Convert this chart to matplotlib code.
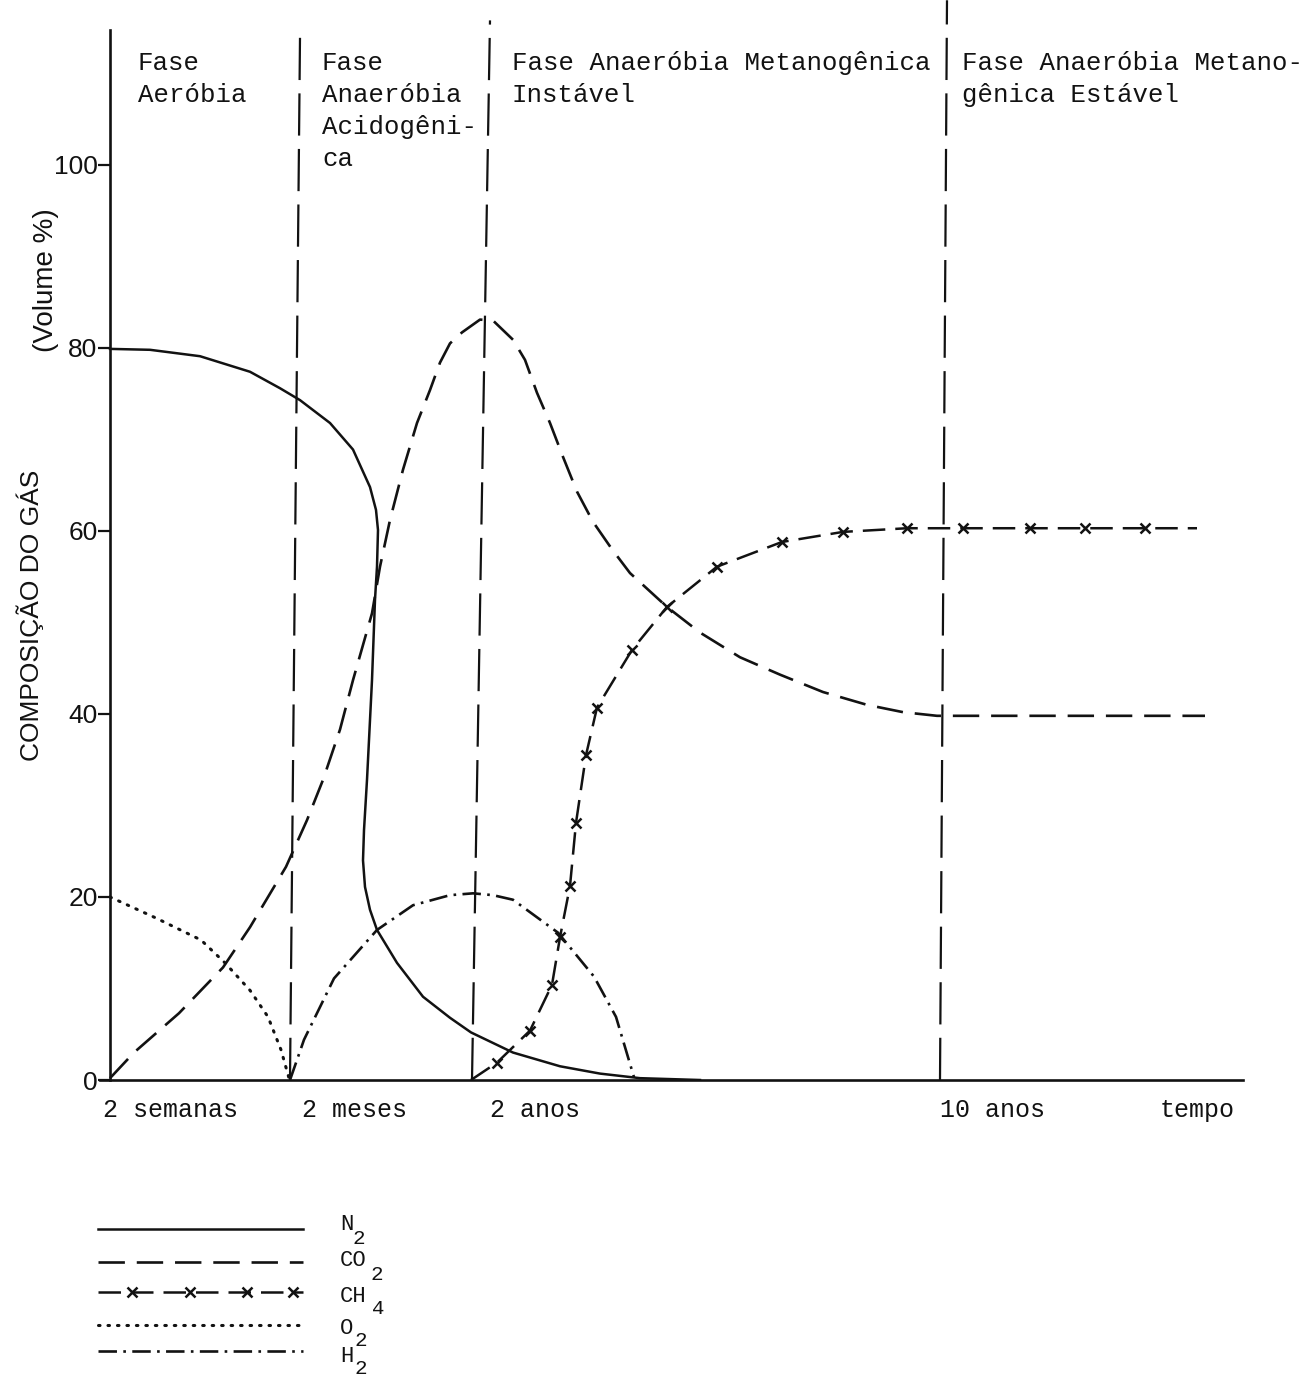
import matplotlib
matplotlib.use("Agg")
import matplotlib.pyplot as plt

# curve values (x in arbitrary time units, y in volume %)
n2_x = [0, 4, 9, 14, 17, 19, 22, 24.3, 26, 26.6, 26.8, 26.7, 26.5, 26.2, 25.7, 25.4, 25.3, 25.5, 26, 26.7, 28.7,
        31.3, 34, 36.1, 40.3, 45, 49, 53, 59]
n2_y = [79.9, 79.8, 79.1, 77.4, 75.6, 74.3, 71.8, 68.9, 64.8, 62.3, 60.1, 56.1, 52.5, 43.7, 32.8, 27.3, 24.0, 21.1,
        18.6, 16.4, 12.8, 9.1, 6.8, 5.2, 3.0, 1.5, 0.7, 0.2, 0.0]

co2_x = [0, 2.4, 6.9, 11.3, 14, 17.6, 19.7, 21.3, 23, 24.3, 26.2, 27, 28, 29.3, 30.7, 32, 33, 34, 35.2, 37, 38.3,
         40.3, 41.5, 42.7, 44, 45.3, 46.7, 48.3, 50.2, 52, 55.7, 59, 63, 67, 71.3, 75.7, 79.3, 82.7, 109.5]
co2_y = [0.2, 3.0, 7.3, 12.3, 16.7, 23.3, 28.4, 32.8, 38.3, 43.7, 51.0, 56.1, 61.2, 66.7, 71.8, 75.4, 78.4, 80.5,
         81.7, 83.1, 83.0, 80.9, 78.7, 75.1, 71.8, 68.1, 64.3, 61.0, 58.0, 55.4, 51.7, 48.9, 46.2, 44.3, 42.4, 41.0,
         40.2, 39.8, 39.8]

ch4_x = [36.1, 38.7, 42, 44.2, 45, 46, 46.6, 47.6, 48.7, 52.2, 55.7, 60.7, 67.2, 73.3, 79.7, 85.3, 92, 97.5, 103.5, 108.7]
ch4_y = [0.0, 1.9, 5.4, 10.4, 15.6, 21.2, 28.1, 35.5, 40.7, 47.0, 51.7, 56.1, 58.8, 59.9, 60.3, 60.3, 60.3, 60.3, 60.3, 60.3]
ch4_marks = list(range(1, 19))

o2_x = [0, 4.6, 9.1, 11.5, 14, 15.8, 17.1, 17.9]
o2_y = [20.0, 17.7, 15.3, 12.8, 9.8, 6.9, 3.3, 0.2]

h2_x = [18, 19.4, 22.4, 26.7, 30.3, 34, 36.3, 38.3, 40.3, 44.8, 48.4, 50.6, 52.4]
h2_y = [0.0, 4.4, 11.1, 16.4, 19.1, 20.2, 20.4, 20.2, 19.7, 16.1, 11.3, 6.9, 0.3]

# phase boundaries (bottom x, top x: the scan is slightly rotated) and their top y
phase_bottom = [18.0, 36.2, 83.0]
phase_top = [19.0, 38.0, 83.7]
phase_top_y = [113.9, 115.8, 118.0]

phase_labels = ["Fase\nAeróbia",
                "Fase\nAnaeróbia\nAcidogêni-\nca",
                "Fase Anaeróbia Metanogênica\nInstável",
                "Fase Anaeróbia Metano-\ngênica Estável"]
phase_label_px = [138, 322, 512, 962]

time_ticks = [-0.7, 19.2, 38.0, 83.0, 105.0]
time_labels = ["2 semanas", "2 meses", "2 anos", "10 anos", "tempo"]
y_ticks = [0, 20, 40, 60, 80, 100]

INK = "#121212"
MONO = ["Liberation Mono", "DejaVu Sans Mono"]
SANS = ["Liberation Sans", "DejaVu Sans"]

styles = {
    "N2": dict(color=INK, lw=1.8, linestyle="-"),
    "CO2": dict(color=INK, lw=1.9, dashes=(10, 4.5)),
    "CH4": dict(color=INK, lw=1.8, dashes=(9, 4), marker="x", markersize=6.5, markeredgewidth=1.8),
    "O2": dict(color=INK, lw=2.2, dashes=(0.5, 2.6), dash_capstyle="round"),
    "H2": dict(color=INK, lw=1.9, dashes=(7, 2.4, 1, 2.4)),
}

W, H = 1308, 1380
fig = plt.figure(figsize=(W / 100, H / 100), dpi=100)
fig.patch.set_facecolor("white")


def fx(px):
    return px / W


def fy(py):
    return 1 - py / H


# main axes: 10 px per x unit, 9.15 px per volume %
ax = fig.add_axes([fx(100), fy(1080), (1243 - 100) / W, (1080 - 30) / H])
ax.set_facecolor("none")
ax.set_xlim(-1.0, 113.3)
ax.set_ylim(0, 114.75)

ax.plot(n2_x, n2_y, solid_joinstyle="round", **styles["N2"])
ax.plot(co2_x, co2_y, **styles["CO2"])
ax.plot(ch4_x, ch4_y, markevery=ch4_marks, **styles["CH4"])
ax.plot(o2_x, o2_y, **styles["O2"])
ax.plot(h2_x, h2_y, **styles["H2"])

for xb, xt, yt in zip(phase_bottom, phase_top, phase_top_y):
    ax.plot([xb, xt], [0, yt], color=INK, lw=1.6, dashes=(19, 6), clip_on=False)

for spine in ["top", "right"]:
    ax.spines[spine].set_visible(False)
ax.spines["left"].set_position(("data", 0))
for spine in ["left", "bottom"]:
    ax.spines[spine].set_linewidth(1.9)
    ax.spines[spine].set_color(INK)

ax.set_yticks(y_ticks)
ax.set_yticklabels([str(v) for v in y_ticks], family=SANS, fontsize=19)
ax.tick_params(axis="y", direction="out", length=9, width=1.6, pad=0, colors=INK)
ax.set_xticks(time_ticks)
ax.set_xticklabels(time_labels, family=MONO, fontsize=18, ha="left")
ax.tick_params(axis="x", length=0, pad=13, colors=INK)

for label, px in zip(phase_labels, phase_label_px):
    fig.text(fx(px), fy(51), label, family=MONO, fontsize=18.5, color=INK,
             ha="left", va="top", linespacing=1.42)

fig.text(fx(30), fy(615), "COMPOSIÇÃO DO GÁS", rotation=90, family=SANS,
         fontsize=19, color=INK, ha="center", va="center")
fig.text(fx(46), fy(280), "(Volume %)", rotation=90, family=SANS,
         fontsize=20, color=INK, ha="center", va="center")

# hand-made legend below the chart
leg = fig.add_axes([0, 0, 1, 1])
leg.set_facecolor("none")
leg.set_xlim(0, W)
leg.set_ylim(H, 0)
leg.axis("off")

legend_rows = [
    # key, line y, base text, subscript, base left, sub left, base y, sub y
    ("N2", 1229, "N", "2", 340, 353, 1225, 1239),
    ("CO2", 1262, "CO", "2", 340, 370, 1261, 1275),
    ("CH4", 1292, "CH", "4", 340, 372, 1296, 1309),
    ("O2", 1325, "O", "2", 340, 354, 1328, 1341),
    ("H2", 1351, "H", "2", 340, 354, 1356, 1368),
]
for key, ly, base, sub, bx, sx, by, sy in legend_rows:
    st = dict(styles[key])
    if key == "CH4":
        leg.plot([98, 132, 190, 247, 293, 303], [ly] * 6, markevery=[1, 2, 3, 4], **st)
    else:
        leg.plot([98, 303], [ly, ly], **st)
    leg.text(bx, by, base, family=MONO, fontsize=16, color=INK, ha="left", va="center")
    leg.text(sx, sy, sub, family=MONO, fontsize=15, color=INK, ha="left", va="center")

fig.savefig("out.png", dpi=100, facecolor="white")
